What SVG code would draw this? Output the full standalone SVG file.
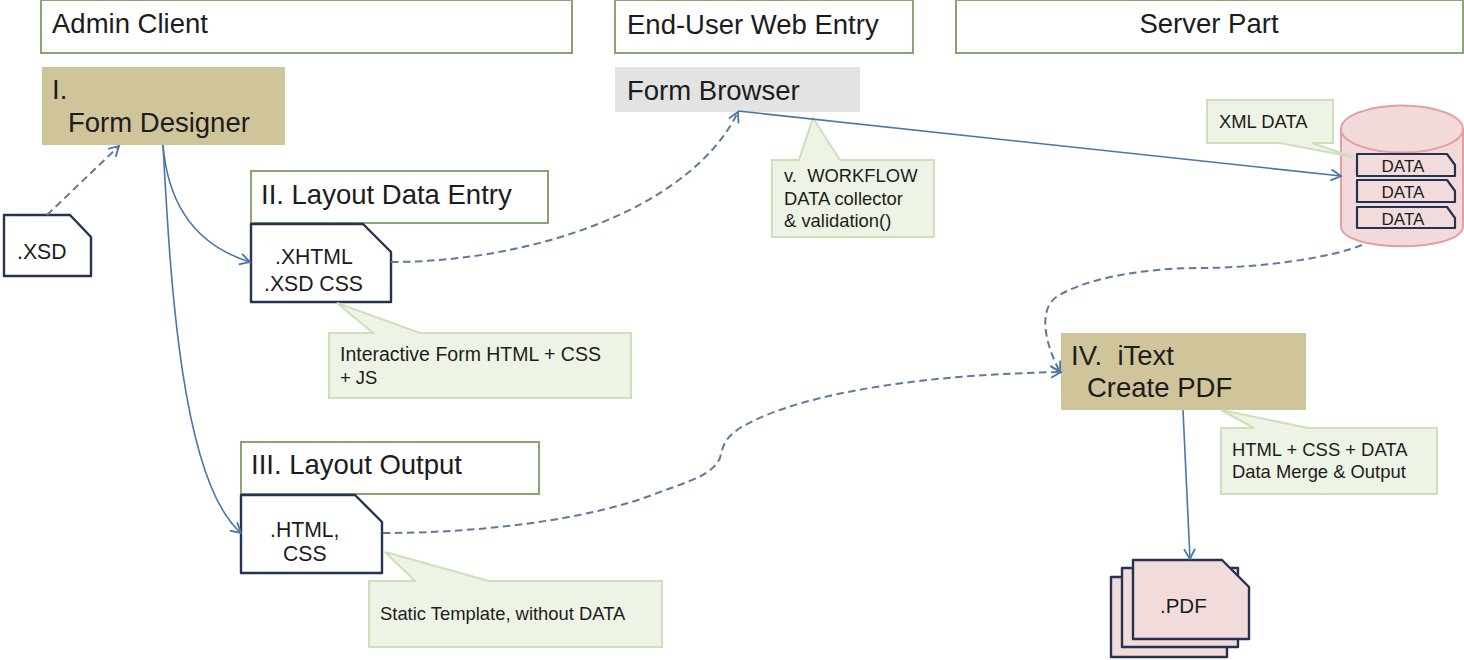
<svg xmlns="http://www.w3.org/2000/svg" width="1464" height="660" viewBox="0 0 1464 660">
<defs>
<marker id="arr" markerWidth="14" markerHeight="14" refX="11" refY="6" orient="auto" markerUnits="userSpaceOnUse"><path d="M1 0.5L11 6L1 11.5" fill="none" stroke="#4a76a8" stroke-width="1.8"/></marker>
</defs>
<style>
text{font-family:"Liberation Sans",Arial,sans-serif;fill:#1c1c1c}
.t{font-size:27.5px}
.m{font-size:21.2px}
.s{font-size:18.4px}
.h{fill:#fff;stroke:#8aa571;stroke-width:2}
.c{fill:#eef4e5;stroke:#cfdfba;stroke-width:2}
.d{fill:#fff;stroke:#243352;stroke-width:2.4;stroke-linejoin:round}
.p{fill:#f2dbdb;stroke:#243352;stroke-width:2.4;stroke-linejoin:round}
.k{fill:#f2dbdb;stroke:#243352;stroke-width:2.2;stroke-linejoin:round}
.l{fill:none;stroke:#4a76a8;stroke-width:1.6}
.ld{fill:none;stroke:#5f7a9a;stroke-width:2;stroke-dasharray:7.500 4.500}
</style>
<g id="admin-client"><rect class="h" x="41" y="0" width="531" height="53"/><text class="t" x="52" y="33">Admin Client</text></g>
<g id="web-entry"><rect class="h" x="615" y="0" width="298" height="53"/><text class="t" x="627" y="34">End-User Web Entry</text></g>
<g id="server-part"><rect class="h" x="956" y="0" width="507" height="53"/><text class="t" x="1209" y="33" text-anchor="middle">Server Part</text></g>
<g id="form-designer"><rect x="42" y="67" width="243" height="78" fill="#d0c49b"/><text class="t" x="52" y="99">I.</text><text class="t" x="68" y="132">Form Designer</text></g>
<g id="form-browser"><rect x="615" y="67" width="245" height="45" fill="#e3e3e3"/><text class="t" x="627" y="100">Form Browser</text></g>
<g id="xsd"><path class="d" d="M4 215H70L91 237V276H4Z"/><text class="m" x="17" y="259">.XSD</text></g>
<g id="layout-entry"><rect class="h" x="251" y="171" width="297" height="52"/><text class="t" x="261" y="204">II. Layout Data Entry</text></g>
<g id="xhtml"><path class="d" d="M251 224H363L391 252V302H251Z"/><text class="m" x="275" y="264">.XHTML</text><text class="m" x="264" y="291">.XSD CSS</text></g>
<g id="callout-interactive"><path class="c" d="M337 303L420 333H631V398H329V333H373Z"/><text class="s" x="340" y="361" style="font-size:19.5px">Interactive Form HTML + CSS</text><text class="s" x="340" y="384">+ JS</text></g>
<g id="layout-output"><rect class="h" x="241" y="442" width="298" height="52"/><text class="t" x="251" y="474">III. Layout Output</text></g>
<g id="html"><path class="d" d="M241 495H355L382 522V573H241Z"/><text class="m" x="270" y="537">.HTML,</text><text class="m" x="283" y="561">CSS</text></g>
<g id="callout-static"><path class="c" d="M385 552L489 581H662V647H369V581H415Z"/><text class="s" x="380" y="620">Static Template, without DATA</text></g>
<g id="callout-workflow"><path class="c" d="M813 118L840 160H934V237H772V160H799Z"/><text class="s" x="784" y="182" xml:space="preserve">v.  WORKFLOW</text><text class="s" x="784" y="205">DATA collector</text><text class="s" x="784" y="227">&amp; validation()</text></g>
<g id="database">
<path d="M1341 129V226C1341 253 1463 253 1463 226V129Z" fill="#f3dada" stroke="#e2a0a4" stroke-width="2"/>
<ellipse cx="1402" cy="129" rx="61" ry="23.500" fill="#f3dada" stroke="#e2a0a4" stroke-width="2"/>
<path class="k" d="M1357 154H1447L1455 165V176H1357Z"/><text class="s" x="1403" y="172" text-anchor="middle" style="font-size:17px">DATA</text>
<path class="k" d="M1357 180H1447L1455 191V202H1357Z"/><text class="s" x="1403" y="198" text-anchor="middle" style="font-size:17px">DATA</text>
<path class="k" d="M1357 207H1447L1455 218V228H1357Z"/><text class="s" x="1403" y="225" text-anchor="middle" style="font-size:17px">DATA</text>
</g>
<g id="callout-xml"><path class="c" d="M1207 100H1333V143H1312L1353 157L1280 143H1207Z"/><text class="s" x="1219" y="128">XML DATA</text></g>
<g id="itext"><rect x="1061" y="333" width="245" height="77" fill="#d0c49b"/><text class="t" x="1071" y="365" xml:space="preserve">IV.  iText</text><text class="t" x="1087" y="397">Create PDF</text></g>
<g id="callout-merge"><path class="c" d="M1221 410L1308 428H1437V494H1221V428H1254Z"/><text class="s" x="1232" y="456">HTML + CSS + DATA</text><text class="s" x="1232" y="478">Data Merge &amp; Output</text></g>
<g id="pdf">
<path class="p" d="M1111 577H1227V657H1111Z"/>
<path class="p" d="M1122 568H1238V647H1122Z"/>
<path class="p" d="M1133 560H1222L1249 587V639H1133Z"/>
<text class="m" x="1160" y="613" style="font-size:20.500px">.PDF</text>
</g>
<g id="connectors">
<path class="ld" marker-end="url(#arr)" d="M47 215L119 146"/>
<path class="l" marker-end="url(#arr)" d="M163 145C168 205 195 245 250 262"/>
<path class="l" marker-end="url(#arr)" d="M163 145C170 270 180 480 241 533"/>
<path class="ld" marker-end="url(#arr)" d="M391 262C530 262 690 210 738 112"/>
<path class="l" marker-end="url(#arr)" d="M738 111L1341 176"/>
<path class="ld" marker-end="url(#arr)" d="M1362 245C1330 258 1260 268 1200 268C1140 268 1080 280 1055 298C1040 310 1043 340 1060 372"/>
<path class="ld" marker-end="url(#arr)" d="M383 533C480 533 590 520 660 492C690 481 712 475 720 458C723 445 725 438 740 428C790 398 900 375 1061 372"/>
<path class="l" marker-end="url(#arr)" d="M1183 410L1190 559"/>
</g>
</svg>
